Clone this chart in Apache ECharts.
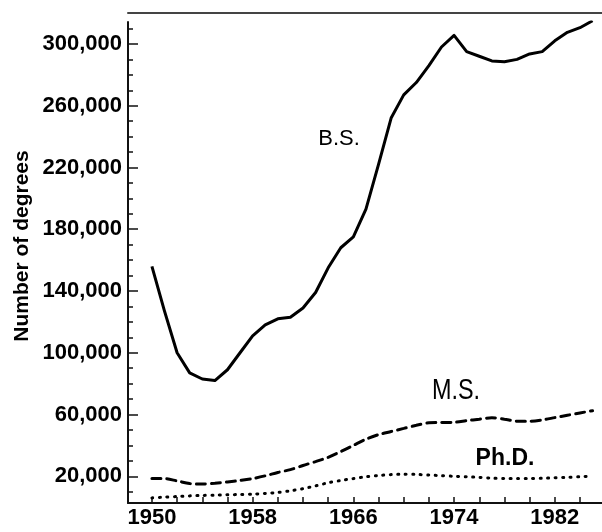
<!DOCTYPE html>
<html>
<head>
<meta charset="utf-8">
<script src="https://cdn.jsdelivr.net/npm/echarts@6/dist/echarts.min.js"></script>
<style>
  html, body { margin: 0; padding: 0; background: #fff; }
  #chart { width: 602px; height: 532px; }
</style>
</head>
<body>
<div id="chart"></div>
<script>
// values
const years = [1950, 1951, 1952, 1953, 1954, 1955, 1956, 1957, 1958, 1959,
  1960, 1961, 1962, 1963, 1964, 1965, 1966, 1967, 1968, 1969,
  1970, 1971, 1972, 1973, 1974, 1975, 1976, 1977, 1978, 1979,
  1980, 1981, 1982, 1983, 1984, 1985]
const bsDegrees = [156000, 127000, 100000, 87000, 83000, 82000, 89000, 100000, 111000, 118000,
  122000, 123000, 129000, 139000, 155000, 168000, 175000, 193000, 222000, 252000,
  267000, 275000, 286000, 298000, 305500, 295000, 292000, 289000, 288500, 290000,
  293500, 295000, 302000, 307500, 310500, 315000]
const msDegrees = [18500, 18500, 17000, 15300, 15000, 15500, 16300, 17300, 18500, 20300,
  22500, 24300, 27000, 29500, 32300, 36000, 40000, 44000, 47000, 49000,
  51000, 53000, 54600, 54800, 55000, 56000, 57000, 57900, 57000, 55700,
  55700, 56500, 58000, 59500, 61000, 62500]
const phdDegrees = [6000, 6500, 6900, 7300, 7600, 7800, 8000, 8200, 8400, 8900,
  9500, 10600, 12000, 13800, 15800, 17300, 18500, 19700, 20500, 21100,
  21300, 21200, 20800, 20400, 20000, 19700, 19300, 18800, 18500, 18500,
  18500, 18700, 19000, 19300, 19700, 20200]

const xTickYears = [1950, 1952, 1954, 1956, 1958, 1960, 1962, 1964, 1966, 1968,
  1970, 1972, 1974, 1976, 1978, 1980, 1982, 1984]
const xLabelYears = [1950, 1958, 1966, 1974, 1982]
const yLabelValues = [20000, 60000, 100000, 140000, 180000, 220000, 260000, 300000]
const yMinorValues = [10000, 20000, 30000, 40000, 50000, 60000, 70000, 80000, 90000, 100000,
  110000, 120000, 130000, 140000, 150000, 160000, 170000, 180000, 190000, 200000,
  210000, 220000, 230000, 240000, 250000, 260000, 270000, 280000, 290000, 300000, 310000]

const font = '"Liberation Sans", Arial, Helvetica, sans-serif'

const pairs = vals => years.map((y, i) => [y, vals[i]])

const option = {
  backgroundColor: '#fff',
  animation: false,
  grid: { left: 128, right: 0, top: 22, bottom: 29, containLabel: false },
  xAxis: [
    {
      type: 'value',
      min: 1948.1,
      max: 1985.75,
      splitLine: { show: false },
      axisLine: { show: true, lineStyle: { color: '#111', width: 2 } },
      axisTick: { show: true, inside: true, length: 6, customValues: xTickYears, lineStyle: { color: '#111', width: 1.5 } },
      axisLabel: {
        customValues: xLabelYears,
        formatter: v => String(v),
        color: '#000',
        fontFamily: font,
        fontWeight: 'bold',
        fontSize: 22,
        margin: 4
      }
    },
    {
      // rule line across the top
      type: 'value',
      position: 'top',
      offset: 9,
      min: 1948.1,
      max: 1985.75,
      splitLine: { show: false },
      axisLine: { show: true, lineStyle: { color: '#444', width: 2 } },
      axisTick: { show: false },
      axisLabel: { show: false }
    }
  ],
  yAxis: [
    {
      type: 'value',
      min: 2700,
      max: 314200,
      splitLine: { show: false },
      axisLine: { show: true, lineStyle: { color: '#111', width: 2 } },
      axisTick: { show: true, inside: true, length: 10, customValues: yLabelValues, lineStyle: { color: '#111', width: 1.5 } },
      axisLabel: {
        customValues: yLabelValues,
        formatter: v => v.toLocaleString('en-US'),
        color: '#000',
        fontFamily: font,
        fontWeight: 'bold',
        fontSize: 22,
        margin: 6
      }
    },
    {
      // minor ticks every 10,000
      type: 'value',
      position: 'left',
      min: 2700,
      max: 314200,
      splitLine: { show: false },
      axisLine: { show: false },
      axisTick: { show: true, inside: true, length: 5, customValues: yMinorValues, lineStyle: { color: '#111', width: 1.5 } },
      axisLabel: { show: false }
    }
  ],
  series: [
    {
      name: 'B.S.',
      type: 'line',
      data: pairs(bsDegrees),
      symbol: 'none',
      lineStyle: { color: '#000', width: 3, join: 'round' }
    },
    {
      name: 'M.S.',
      type: 'line',
      smooth: 0.3,
      data: pairs(msDegrees),
      symbol: 'none',
      lineStyle: { color: '#000', width: 3, type: [9, 6], cap: 'round' }
    },
    {
      name: 'Ph.D.',
      type: 'line',
      smooth: 0.3,
      data: pairs(phdDegrees),
      symbol: 'none',
      lineStyle: { color: '#000', width: 3, type: [1, 6.5], cap: 'round' }
    }
  ],
  graphic: [
    {
      type: 'text',
      x: 22,
      y: 246,
      rotation: Math.PI / 2,
      style: {
        text: 'Number of degrees',
        font: 'bold 21px ' + font,
        fill: '#000',
        align: 'center',
        verticalAlign: 'middle'
      }
    },
    {
      type: 'text',
      x: 339,
      y: 139,
      style: { text: 'B.S.', font: '22px ' + font, fill: '#000', align: 'center', verticalAlign: 'middle' }
    },
    {
      type: 'text',
      x: 456,
      y: 391,
      scaleX: 0.78,
      style: { text: 'M.S.', font: '30px ' + font, fill: '#000', align: 'center', verticalAlign: 'middle' }
    },
    {
      type: 'text',
      x: 505,
      y: 459,
      style: { text: 'Ph.D.', font: 'bold 23px ' + font, fill: '#000', align: 'center', verticalAlign: 'middle' }
    }
  ]
}

const chart = echarts.init(document.getElementById('chart'))
chart.setOption(option)
</script>
</body>
</html>
